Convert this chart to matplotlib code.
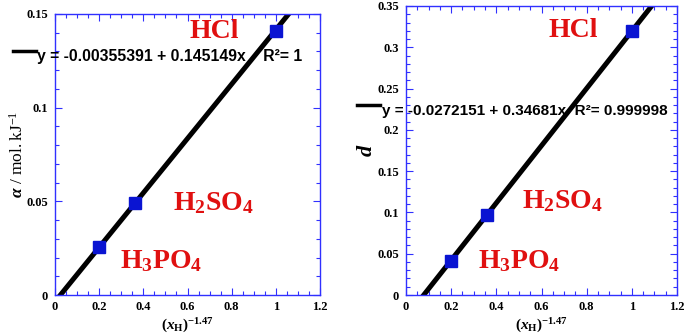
import numpy as np
import matplotlib
matplotlib.use('Agg')
import matplotlib.pyplot as plt
from matplotlib.ticker import MultipleLocator

plt.rcParams['mathtext.fontset'] = 'custom'
plt.rcParams['mathtext.rm'] = 'Liberation Serif:bold'
plt.rcParams['mathtext.it'] = 'Liberation Serif:italic:bold'
plt.rcParams['mathtext.bf'] = 'Liberation Serif:bold'
plt.rcParams['mathtext.sf'] = 'Liberation Serif'

# ------------------------------------------------------------
# data
# ------------------------------------------------------------
x_alpha = [0.198, 0.363, 1.0]
y_alpha = [0.0255, 0.0489, 0.141]
fit_alpha = (-0.00355391, 0.145149)
eq_alpha = 'y = -0.00355391 + 0.145149x    R\u00b2= 1'

x_d = [0.198, 0.357, 1.0]
y_d = [0.041, 0.097, 0.320]
fit_d = (-0.0272151, 0.34681)
eq_d = 'y = -0.0272151 + 0.34681x  R\u00b2= 0.999998'

acids = ['HCl', r'$\mathrm{H_2SO_4}$', r'$\mathrm{H_3PO_4}$']

BLUE = '#3030ff'
MARK = '#0a14d2'
RED = '#e01010'

fig = plt.figure(figsize=(6.85, 3.36), dpi=100)
ax1 = fig.add_axes([55/685, 1-295/336, 265/685, 281/336])
ax2 = fig.add_axes([406/685, 1-295/336, 271/685, 289/336])


def style_axes(ax, ymax, ymajor):
    ax.set_xlim(0, 1.2)
    ax.set_ylim(0, ymax)
    ax.xaxis.set_major_locator(MultipleLocator(0.2))
    ax.xaxis.set_minor_locator(MultipleLocator(0.05))
    ax.yaxis.set_major_locator(MultipleLocator(ymajor))
    ax.yaxis.set_minor_locator(MultipleLocator(0.01))
    for s in ax.spines.values():
        s.set_color(BLUE)
        s.set_linewidth(1.0)
    ax.tick_params(which='both', direction='in', top=True, right=True,
                   color=BLUE, width=0.8)
    ax.tick_params(which='major', length=5)
    ax.tick_params(which='minor', length=3)
    ax.tick_params(axis='y', pad=5)
    ax.tick_params(axis='x', pad=4)
    ax.xaxis.set_major_formatter(plt.FuncFormatter(lambda v, p: f'{v:g}'))
    ax.yaxis.set_major_formatter(plt.FuncFormatter(lambda v, p: f'{v:g}'))
    for lab in ax.get_xticklabels() + ax.get_yticklabels():
        lab.set_fontfamily('Liberation Serif')
        lab.set_fontweight('bold')
        lab.set_fontsize(9)


def draw_panel(ax, xs, ys, fit):
    xx = np.array([0.0, 1.2])
    ax.plot(xx, fit[0] + fit[1] * xx, color='black', lw=3.6,
            solid_capstyle='butt', zorder=2)
    ax.plot(xs, ys, 's', color=MARK, ms=9, zorder=3)


style_axes(ax1, 0.15, 0.05)
style_axes(ax2, 0.35, 0.05)
draw_panel(ax1, x_alpha, y_alpha, fit_alpha)
draw_panel(ax2, x_d, y_d, fit_d)

# axis labels
xlab = r'$(x_{\mathrm{H}})^{-1.47}$'
for ax in (ax1, ax2):
    ax.set_xlabel(xlab, fontsize=11, labelpad=3)
ax1.set_ylabel(r'$\alpha\ \mathsf{/\ mol.kJ^{-1}}$', fontsize=12.5, labelpad=0)
ax2.set_ylabel(r'$d$', fontsize=16, labelpad=1)

# acid labels
tk = dict(color=RED, fontsize=20, fontfamily='Liberation Serif',
          fontweight='bold', va='baseline', ha='left')
pos1 = [(0.509, 0.915), (0.445, 0.302), (0.245, 0.096)]
pos2 = [(0.524, 0.893), (0.428, 0.301), (0.266, 0.093)]
for name, p in zip(acids, pos1):
    ax1.text(p[0], p[1], name, transform=ax1.transAxes, **tk)
for name, p in zip(acids, pos2):
    ax2.text(p[0], p[1], name, transform=ax2.transAxes, **tk)

# fit equations with legend line
ek = dict(fontfamily='Liberation Sans', fontweight='bold',
          va='center', ha='left', color='black')
fig.text(37/685, 1-57/336, eq_alpha, fontsize=11.3, **ek)
fig.lines.append(plt.Line2D([13/685, 36/685], [1-51/336, 1-51/336],
                            color='black', lw=2.5, transform=fig.transFigure))
fig.text(382/685, 1-111/336, eq_d, fontsize=11, **ek)
fig.lines.append(plt.Line2D([357/685, 380/685], [1-105/336, 1-105/336],
                            color='black', lw=2.5, transform=fig.transFigure))

fig.savefig('out.png', dpi=100, facecolor='white')
